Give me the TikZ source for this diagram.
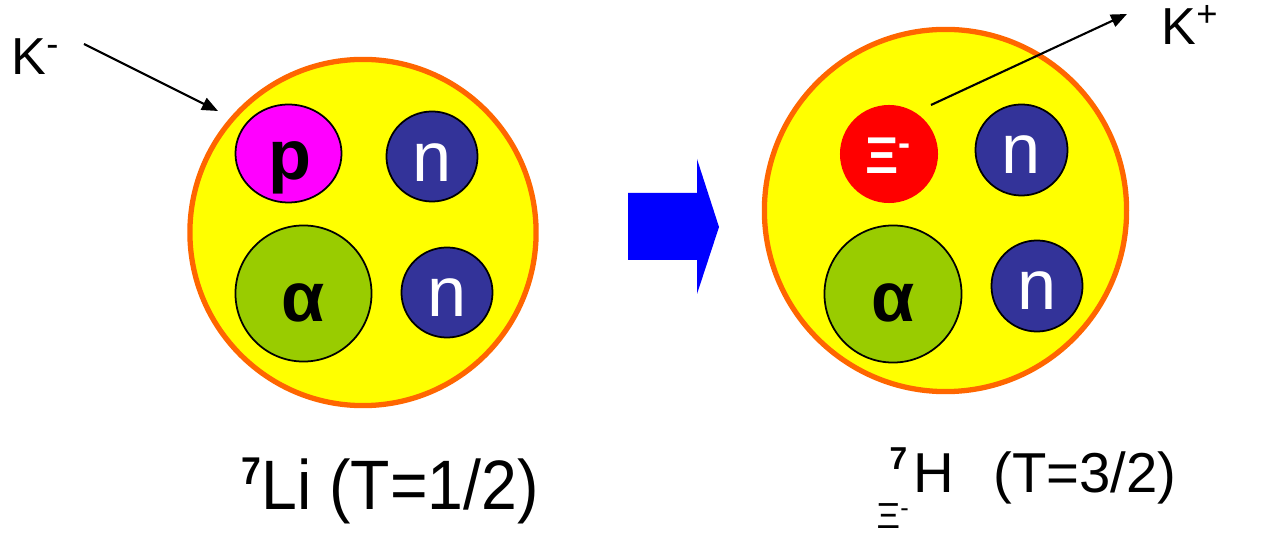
\documentclass[tikz,border=0pt]{standalone}
\usepackage{fontspec}
\usepackage{graphicx}
\setmainfont{Liberation Sans}
\usetikzlibrary{shapes.geometric,arrows.meta}
\definecolor{nucyellow}{HTML}{FFFF00}
\definecolor{nucorange}{HTML}{FF6600}
\definecolor{protonmag}{HTML}{FF00FF}
\definecolor{neutronblue}{HTML}{333399}
\definecolor{alphagreen}{HTML}{99CC00}
\definecolor{xired}{HTML}{FF0000}
\definecolor{arrowblue}{HTML}{0000FF}
\begin{document}
\begin{tikzpicture}[x=0.01cm,y=-0.01cm,
  nucleus/.style={circle, draw=nucorange, fill=nucyellow, line width=1.5pt, inner sep=0},
  particle/.style={ellipse, draw=black, line width=0.5pt, inner sep=0},
  neutron/.style={particle, fill=neutronblue, minimum width=0.91cm, minimum height=0.90cm},
  ptext/.style={anchor=base, inner sep=0, font=\fontsize{20}{24}\selectfont},
  ntext/.style={ptext, text=white},
  btext/.style={ptext, font=\fontsize{20}{24}\selectfont\bfseries},
  kaon/.style={line width=0.6pt, -{Triangle[length=0.16cm,width=0.13cm]}},
  lbl/.style={anchor=base west, inner sep=0}
]
\useasboundingbox (0,0) rectangle (1263,534);

% ---- left nucleus 7Li ----
\node[nucleus, minimum size=3.46cm] (liN) at (363,232.5) {};
\node[particle, fill=protonmag, minimum width=1.06cm, minimum height=0.98cm] (pL) at (288.5,153.5) {};
\node[neutron] (n1L) at (432,156.5) {};
\node[particle, fill=alphagreen, minimum width=1.36cm, minimum height=1.36cm] (aL) at (303.5,293.5) {};
\node[neutron] (n2L) at (447,292.5) {};
\node[btext] (pLt) at (289.5,180) {p};
\node[ntext] (n1Lt) at (432,182) {n};
\node[btext] (aLt) at (303.5,322) {α};
\node[ntext] (n2Lt) at (447,317) {n};

% ---- right nucleus 7_Xi H ----
\node[nucleus, minimum size=3.62cm] (hN) at (945.5,210.5) {};
\node[ellipse, fill=xired, inner sep=0, minimum width=0.98cm, minimum height=0.98cm] (xiR) at (889,154) {};
\node[neutron, minimum width=0.92cm, minimum height=0.91cm] (n1R) at (1021.5,150) {};
\node[particle, fill=alphagreen, minimum width=1.37cm, minimum height=1.37cm] (aR) at (893,294) {};
\node[neutron, minimum width=0.91cm, minimum height=0.91cm] (n2R) at (1037,286) {};
\node[anchor=base west, inner sep=0, text=white, font=\fontsize{14.7}{18}\selectfont\bfseries] (xiRt) at (865,174) {Ξ\textsuperscript{-}};
\node[ntext] (n1Rt) at (1021.5,174) {n};
\node[btext] (aRt) at (893,322) {α};
\node[ntext] (n2Rt) at (1037.5,310) {n};

% ---- blue transition arrow ----
\fill[arrowblue] (628,193) -- (697,193) -- (697,159) -- (719,227) -- (697,294) -- (697,260) -- (628,260) -- cycle;

% ---- kaons ----
\node[lbl, font=\fontsize{14.8}{18}\selectfont] (kminus) at (11,75) {K\textsuperscript{-}};
\node[lbl, font=\fontsize{14.8}{18}\selectfont] (kplus) at (1161,45) {K\textsuperscript{+}};
\coordinate (kmTail) at (84,44);
\coordinate (kmHead) at (218,111);
\coordinate (kpTail) at (931,105);
\coordinate (kpHead) at (1127,14);
\draw[kaon] (kmTail) -- (kmHead);
\draw[kaon] (kpTail) -- (kpHead);

% ---- bottom labels ----
\node[lbl, font=\fontsize{19.9}{24}\selectfont] (liLabel) at (241,510)
  {\scalebox{0.92}[1]{\raisebox{7.3pt}{\fontsize{11}{13}\selectfont\bfseries 7}Li (T=1/2)}};
\node[lbl, font=\fontsize{10.3}{12}\selectfont] (hSub) at (876,529) {Ξ\textsuperscript{-}};
\node[lbl, font=\fontsize{16}{19}\selectfont] (hLabel) at (889,493)
  {\raisebox{0.23cm}{\fontsize{9}{11}\selectfont\bfseries 7}\hspace{0.06cm}H};
\node[lbl, font=\fontsize{16}{19}\selectfont] (hIso) at (993,493) {(T=3/2)};
\end{tikzpicture}
\end{document}
